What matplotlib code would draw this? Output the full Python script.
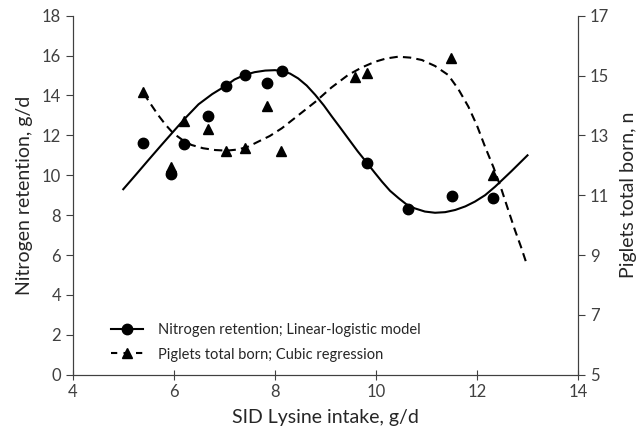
import numpy as np
import matplotlib.pyplot as plt
from matplotlib.lines import Line2D

plt.rcParams['font.family'] = ['Lato', 'DejaVu Sans']

# observed points
lys_n = [5.40, 5.94, 6.21, 6.67, 7.03, 7.40, 7.85, 8.14, 9.83, 10.64, 11.50, 12.31]
nret = [11.63, 10.07, 11.55, 12.99, 14.49, 15.03, 14.61, 15.23, 10.60, 8.31, 8.98, 8.88]

lys_p = [5.40, 5.94, 6.21, 6.67, 7.03, 7.40, 7.85, 8.12, 9.59, 9.82, 11.49, 12.31]
piglets = [14.46, 11.95, 13.48, 13.21, 12.48, 12.57, 13.98, 12.48, 14.96, 15.07, 15.58, 11.67]

# fitted curves
fit_n_x = [5.00, 5.25, 5.50, 5.75, 5.99, 6.24, 6.49, 6.76, 7.03, 7.20, 7.40, 7.60, 7.81,
           8.00, 8.14, 8.30, 8.46, 8.63, 8.80, 8.97, 9.13, 9.29, 9.45, 9.64, 9.83, 9.97,
           10.12, 10.28, 10.45, 10.60, 10.77, 10.97, 11.17, 11.37, 11.57, 11.77, 11.96,
           12.16, 12.36, 12.68, 13.00]
fit_n_y = [9.30, 10.03, 10.77, 11.50, 12.19, 12.90, 13.56, 14.07, 14.49, 14.80, 15.03, 15.17,
           15.25, 15.27, 15.23, 15.10, 14.86, 14.50, 14.03, 13.50, 12.94, 12.40, 11.85, 11.20,
           10.60, 10.15, 9.68, 9.22, 8.85, 8.55, 8.34, 8.18, 8.12, 8.15, 8.26, 8.44, 8.68,
           9.00, 9.43, 10.20, 11.00]

fit_p_x = [5.40, 5.55, 5.69, 5.84, 5.99, 6.17, 6.35, 6.58, 6.82, 7.05, 7.28, 7.48, 7.67,
           7.90, 8.14, 8.47, 8.80, 9.12, 9.45, 9.72, 9.98, 10.20, 10.44, 10.68, 10.91,
           11.17, 11.43, 11.63, 11.83, 12.00, 12.16, 12.33, 12.49, 12.62, 12.75, 12.87, 12.98]
fit_p_y = [14.41, 14.03, 13.68, 13.35, 13.07, 12.85, 12.68, 12.57, 12.51, 12.49, 12.53, 12.63,
           12.79, 12.98, 13.24, 13.68, 14.12, 14.60, 15.02, 15.27, 15.46, 15.57, 15.63, 15.60,
           15.52, 15.32, 15.02, 14.55, 13.96, 13.33, 12.62, 11.92, 11.17, 10.50, 9.84, 9.28, 8.72]

fig = plt.figure(figsize=(6.38, 4.37), dpi=100)
ax = fig.add_axes([0.114, 0.1426, 0.792, 0.8214])
ax2 = ax.twinx()

ax.plot(fit_n_x, fit_n_y, '-', color='black', lw=1.5)
ax.plot(lys_n, nret, 'o', color='black', ms=7.5, zorder=3)
ax2.plot(fit_p_x, fit_p_y, '--', color='black', lw=1.5, dashes=(4, 2.5))
ax2.plot(lys_p, piglets, '^', color='black', ms=7, zorder=3)

ax.set_xlim(4, 14)
ax.set_ylim(0, 18)
ax2.set_ylim(5, 17)
ax.set_xticks(np.arange(4, 15, 2))
ax.set_yticks(np.arange(0, 19, 2))
ax2.set_yticks(np.arange(5, 18, 2))

for a in (ax, ax2):
    a.spines['top'].set_visible(False)
    for s in a.spines.values():
        s.set_color('#404040')
    a.tick_params(colors='#404040', labelcolor='#404040', labelsize=12, length=5)
ax.tick_params(axis='x', direction='inout', length=7)

ax.set_xlabel('SID Lysine intake, g/d', fontsize=14, color='#262626', labelpad=6)
ax.set_ylabel('Nitrogen retention, g/d', fontsize=14, color='#262626', labelpad=6)
ax2.set_ylabel('Piglets total born, n', fontsize=14, color='#262626', labelpad=8)

handles = [Line2D([], [], color='black', ls='-', marker='o', ms=7.5, lw=1.5),
           Line2D([], [], color='black', ls='--', marker='^', ms=7, lw=1.5, dashes=(3, 3))]
labels = ['Nitrogen retention; Linear-logistic model',
          'Piglets total born; Cubic regression']
ax.legend(handles, labels, loc='lower left', bbox_to_anchor=(0.05, 0.0), frameon=False,
          fontsize=10.5, handlelength=2.2, labelspacing=0.7, handletextpad=1.0,
          labelcolor='#262626')

fig.savefig('out.png')
